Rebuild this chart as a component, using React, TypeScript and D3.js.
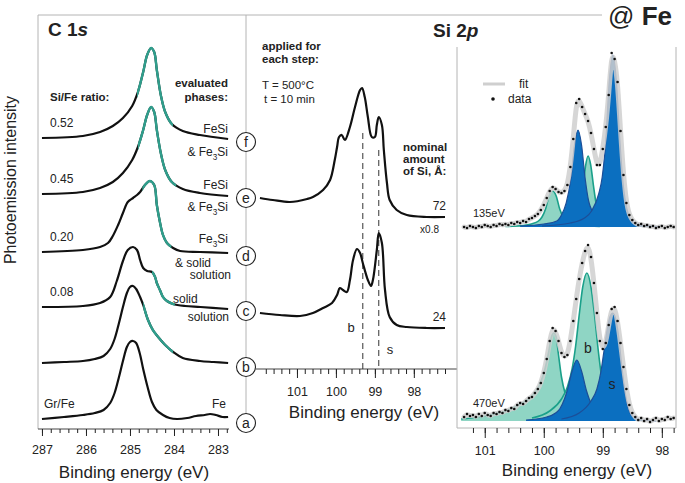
import * as React from "react";
import * as d3 from "d3";

type Pt = [number, number];

// ---- C 1s panel: [binding energy (eV), intensity above own baseline] ----
const c1sA: Pt[] = [
  [287.0, 0], [286.5, 2], [286.07, 4], [285.8, 6], [285.6, 9], [285.45, 16], [285.35, 26], [285.25, 42],
  [285.16, 58], [285.07, 72], [285.0, 77], [284.93, 78], [284.86, 76], [284.78, 66], [284.7, 50], [284.6, 32],
  [284.5, 17], [284.4, 9], [284.25, 4], [284.1, 1], [283.93, 0], [283.7, 1], [283.5, 3], [283.3, 4],
  [283.18, 5], [283.05, 4], [282.9, 2], [282.77, 2],
];
const c1sB: Pt[] = [
  [287.0, 0], [286.5, 1], [286.07, 2], [285.8, 4], [285.6, 7], [285.45, 14], [285.35, 24], [285.25, 40],
  [285.16, 56], [285.07, 70], [285.0, 76], [284.93, 77], [284.86, 74], [284.77, 66], [284.7, 58], [284.59, 43],
  [284.48, 33], [284.36, 26], [284.2, 18], [284.02, 11], [283.8, 5], [283.41, 2], [283.1, 1], [282.77, 0],
];
const c1sC: Pt[] = [
  [287.0, 0], [286.07, 1], [285.68, 4], [285.45, 10], [285.3, 26], [285.16, 46], [285.05, 57], [284.93, 60],
  [284.84, 57], [284.77, 47], [284.7, 39], [284.61, 36], [284.5, 35], [284.43, 30], [284.39, 24], [284.32, 17],
  [284.25, 10], [284.16, 6], [284.02, 3], [283.75, 1], [283.4, 0], [282.77, -2],
];
const c1sD: Pt[] = [
  [287.0, 0], [286.07, 2], [285.68, 5], [285.5, 9], [285.39, 16], [285.27, 27], [285.16, 39], [285.05, 50],
  [284.93, 54], [284.84, 57], [284.77, 60], [284.66, 67], [284.55, 71], [284.45, 67], [284.39, 47], [284.32, 30],
  [284.25, 17], [284.16, 9], [284.02, 4], [283.86, 1], [283.41, 0], [282.77, -1],
];
const c1sE: Pt[] = [
  [287.0, 0], [286.07, 2], [285.68, 6], [285.39, 12], [285.16, 21], [284.95, 34], [284.82, 47], [284.7, 64],
  [284.61, 79], [284.52, 87], [284.45, 82], [284.39, 64], [284.3, 41], [284.2, 24], [284.05, 12], [283.8, 5],
  [283.41, 1], [282.77, -2],
];
const c1sF: Pt[] = [
  [287.0, 0], [286.07, 2], [285.68, 6], [285.39, 12], [285.16, 20], [284.95, 32], [284.82, 46], [284.7, 66],
  [284.61, 83], [284.52, 90], [284.45, 86], [284.39, 68], [284.3, 43], [284.2, 26], [284.05, 14], [283.8, 7],
  [283.41, 3], [282.77, -1],
];
const c1sSpectra = [c1sA, c1sB, c1sC, c1sD, c1sE, c1sF];
const c1sOffsets = [10, 66, 122, 177, 235, 291];
// energy range drawn in teal (high, low)
const c1sTeal: (Pt | null)[] = [null, [284.7, 284.02], [284.5, 283.98], [284.72, 284.06], [284.82, 283.95], [284.84, 284.02]];
const stepLabels = ["a", "b", "c", "d", "e", "f"];
const ratioLabels = ["Gr/Fe", "", "0.08", "0.20", "0.45", "0.52"];
const c1sTickLabels = [287, 286, 285, 284, 283];

// ---- Si 2p series ----
const si2p72: Pt[] = [
  [101.95, 0], [101.62, -2], [101.18, -4], [100.74, -1], [100.59, 1], [100.33, 8], [100.15, 18], [100.03, 38],
  [99.97, 51], [99.92, 61], [99.85, 63], [99.77, 58], [99.64, 71], [99.51, 91], [99.38, 108], [99.33, 110],
  [99.26, 101], [99.18, 81], [99.08, 61], [99.0, 61], [98.95, 73], [98.9, 81], [98.82, 73], [98.77, 48],
  [98.69, 15], [98.62, -2], [98.44, -12], [98.18, -17], [97.67, -19], [97.2, -19],
];
const si2p24: Pt[] = [
  [101.95, 0], [101.44, -2], [100.92, -3], [100.59, 0], [100.33, 5], [100.1, 10], [99.97, 18], [99.9, 25],
  [99.82, 23], [99.72, 21], [99.64, 33], [99.56, 53], [99.46, 64], [99.38, 60], [99.31, 50], [99.18, 33],
  [99.1, 27], [99.05, 33], [98.95, 63], [98.9, 80], [98.82, 70], [98.74, 23], [98.62, -4], [98.44, -12],
  [98.18, -14], [97.67, -15], [97.2, -15],
];
const si2pOffsets = [56, 171];
const si2pAmounts = ["24", "72"];
const bulkEnergy = 99.31;
const surfaceEnergy = 98.9;
const si2pTickLabels = [101, 100, 99, 98];

// ---- Si 2p @ Fe fits ----
const fitEnergies = [
  101.35, 101.3, 101.25, 101.2, 101.15, 101.1, 101.05, 101.0, 100.95, 100.9, 100.85, 100.8, 100.75, 100.7,
  100.65, 100.6, 100.55, 100.5, 100.45, 100.4, 100.35, 100.3, 100.25, 100.2, 100.15, 100.1, 100.05, 100.0,
  99.95, 99.9, 99.85, 99.8, 99.75, 99.7, 99.65, 99.6, 99.55, 99.5, 99.45, 99.4, 99.35, 99.3, 99.25, 99.2,
  99.15, 99.1, 99.05, 99.0, 98.95, 98.9, 98.85, 98.8, 98.75, 98.7, 98.65, 98.6, 98.55, 98.5, 98.45, 98.4,
  98.35, 98.3, 98.25, 98.2, 98.15, 98.1, 98.05, 98.0, 97.95, 97.9, 97.85, 97.8,
];
const data135 = [
  0, -1, 1, 0, -1, 1, 0, 2, 1, 0, 2, 1, 3, 2,
  3, 2, 4, 3, 5, 4, 6, 5, 8, 9, 11, 13, 17, 22,
  29, 36, 40, 38, 35, 34, 36, 42, 60, 88, 124, 128, 120, 113, 106, 94,
  78, 62, 62, 78, 100, 132, 174, 168, 145, 96, 52, 24, 12, 7, 4, 2,
  3, 1, 2, 0, 1, -1, 0, 1, -1, 0, 1, 0,
];
const data470 = [
  4, 7, 5, 6, 4, 7, 5, 8, 6, 5, 8, 7, 9, 8,
  11, 10, 13, 12, 16, 18, 17, 20, 23, 24, 28, 32, 38, 48,
  62, 80, 93, 90, 80, 68, 64, 66, 80, 100, 122, 142, 158, 170, 176, 164,
  138, 108, 80, 72, 78, 96, 112, 114, 100, 78, 54, 32, 16, 8, 4, 1,
  3, 0, 2, -1, 1, 3, 0, 2, 1, 4, 2, 3,
];
// fit components, [energy, intensity]
const comp135Teal1: Pt[] = [
  [100.65, 0.5], [100.35, 1.5], [100.21, 3], [100.09, 6], [100.03, 10], [99.97, 18], [99.91, 31], [99.85, 36],
  [99.79, 31], [99.73, 18], [99.67, 10], [99.61, 6], [99.49, 3], [99.35, 1.5], [99.05, 0.5],
];
const comp135Blue1: Pt[] = [
  [100.4, 1], [100.0, 3], [99.78, 6], [99.7, 12], [99.62, 24], [99.54, 49], [99.48, 82], [99.42, 97],
  [99.36, 82], [99.3, 49], [99.24, 26], [99.18, 16], [99.06, 6], [98.84, 3], [98.4, 1],
];
const comp135Teal2: Pt[] = [
  [99.85, 1], [99.61, 3], [99.52, 6], [99.43, 12], [99.385, 20], [99.34, 38], [99.295, 60], [99.25, 71],
  [99.205, 62], [99.16, 42], [99.115, 24], [99.07, 13], [98.98, 6], [98.89, 3], [98.65, 1],
];
const comp135Blue2: Pt[] = [
  [100.03, 1], [99.55, 4], [99.31, 9], [99.19, 16], [99.07, 33], [99.01, 50], [98.95, 86], [98.89, 146],
  [98.83, 172], [98.77, 146], [98.71, 86], [98.65, 40], [98.59, 18], [98.51, 6], [98.38, 2], [98.03, 0.5],
];
const comp470Teal1: Pt[] = [
  [101.4, 2], [101.0, 5], [100.6, 11], [100.4, 17], [100.2, 25], [100.08, 35], [99.98, 52], [99.92, 68],
  [99.87, 84], [99.83, 88], [99.79, 84], [99.75, 66], [99.7, 44], [99.64, 28], [99.55, 16], [99.42, 8],
  [99.2, 3], [98.9, 1],
];
const comp470Blue1: Pt[] = [
  [100.3, 1], [99.95, 4], [99.8, 8], [99.73, 12], [99.65, 22], [99.6, 31], [99.52, 50], [99.44, 61],
  [99.36, 50], [99.28, 31], [99.23, 22], [99.15, 12], [99.08, 8], [98.93, 4], [98.6, 1],
];
const comp470Teal2: Pt[] = [
  [100.2, 3], [99.9, 10], [99.7, 22], [99.6, 34], [99.52, 52], [99.46, 75], [99.4, 106], [99.34, 134],
  [99.27, 148], [99.2, 134], [99.14, 106], [99.08, 72], [99.02, 44], [98.95, 25], [98.85, 12], [98.7, 5], [98.4, 1],
];
const comp470Blue2: Pt[] = [
  [99.7, 2], [99.4, 8], [99.2, 20], [99.1, 32], [99.03, 50], [98.98, 70], [98.93, 90], [98.88, 104],
  [98.83, 108], [98.78, 102], [98.73, 84], [98.68, 56], [98.63, 32], [98.58, 16], [98.5, 5], [98.35, 1], [98.1, 0],
];
const fitOffsets = [7, 201];
const photonLabels = ["470eV", "135eV"];

const FONT = "'Liberation Sans', Arial, sans-serif";
const TEAL = "#2f9e8c";
const GRAY = "#b4b4b4";

type G = d3.Selection<SVGGElement, unknown, null, undefined>;

// "_x" subscript, "*x" italic
function addText(g: G, x: number, y: number, str: string, size = 12, anchor = "start", weight = "normal") {
  const t = g.append("text")
    .attr("x", x).attr("y", y)
    .attr("font-size", size)
    .attr("text-anchor", anchor)
    .attr("font-weight", weight)
    .attr("fill", "#222");
  const parts = str.split(/([_*].)/).filter((s) => s !== "");
  let shift = 0;
  parts.forEach((p) => {
    if (p[0] === "_") {
      const dy = size * 0.3;
      t.append("tspan").attr("dy", dy - shift).attr("font-size", size * 0.68).text(p.slice(1));
      shift = dy;
    } else if (p[0] === "*") {
      t.append("tspan").attr("dy", -shift).attr("font-style", "italic").text(p.slice(1));
      shift = 0;
    } else {
      t.append("tspan").attr("dy", -shift).text(p);
      shift = 0;
    }
  });
  return t;
}

function bottomTicks(g: G, scale: d3.ScaleLinear<number, number>, y: number, minor: number[], major: number[],
                     minorLen: number, majorLen: number, labelY: number) {
  g.append("g")
    .attr("transform", `translate(0,${y})`)
    .call(d3.axisBottom(scale).tickValues(minor).tickSize(minorLen).tickFormat(() => ""))
    .call((a) => a.select(".domain").remove())
    .call((a) => a.selectAll("line").attr("stroke", "#222"));
  const maj = g.append("g")
    .attr("transform", `translate(0,${y})`)
    .call(d3.axisBottom(scale).tickValues(major).tickSize(majorLen).tickFormat(d3.format("d")))
    .call((a) => a.select(".domain").remove());
  maj.selectAll("line").attr("stroke", "#222");
  maj.selectAll("text")
    .attr("y", labelY - y).attr("dy", 0)
    .attr("font-size", 12.5).attr("font-family", FONT).attr("fill", "#222");
}

export default class App extends React.Component {

  private svgRef = React.createRef<SVGSVGElement>();

  public componentDidMount() {
    this.drawChart();
  }

  public render() {
    return (
      <svg ref={this.svgRef} width={685} height={483}
        style={{ position: "absolute", left: 0, top: 0, background: "#fff" }} />
    );
  }

  private drawChart() {
    if (!this.svgRef.current) return;
    const svg = d3.select(this.svgRef.current);
    svg.selectAll("*").remove();
    const root = svg.append("g").attr("font-family", FONT) as unknown as G;

    // frame
    root.append("line").attr("x1", 38).attr("x2", 602).attr("y1", 15).attr("y2", 15).attr("stroke", GRAY);
    root.append("line").attr("x1", 38).attr("x2", 38).attr("y1", 15).attr("y2", 429).attr("stroke", GRAY);
    root.append("line").attr("x1", 246).attr("x2", 246).attr("y1", 15).attr("y2", 423).attr("stroke", GRAY);

    // ---------- C 1s ----------
    const x1 = d3.scaleLinear().domain([287.09, 282.75]).range([38, 229]);
    const y1 = d3.scaleLinear().domain([0, 414]).range([429, 15]);

    root.append("line").attr("x1", 38).attr("x2", 229).attr("y1", 429).attr("y2", 429).attr("stroke", "#444");
    bottomTicks(root, x1, 429, d3.range(282.8, 287.01, 0.2), c1sTickLabels, 4, 7, 454);

    c1sSpectra.forEach((spec, i) => {
      const off = c1sOffsets[i];
      const line = d3.line<Pt>()
        .x((d) => x1(d[0]))
        .y((d) => y1(d[1] + off))
        .curve(d3.curveCatmullRom.alpha(0.5));
      root.append("path").attr("d", line(spec)!)
        .attr("fill", "none").attr("stroke", "#111").attr("stroke-width", 2.2)
        .attr("stroke-linejoin", "round");
      const teal = c1sTeal[i];
      if (teal) {
        const id = `teal-c1s-${i}`;
        root.append("clipPath").attr("id", id)
          .append("rect")
          .attr("x", x1(teal[0])).attr("width", x1(teal[1]) - x1(teal[0]))
          .attr("y", 0).attr("height", 483);
        root.append("path").attr("d", line(spec)!)
          .attr("clip-path", `url(#${id})`)
          .attr("fill", "none").attr("stroke", TEAL).attr("stroke-width", 2.4)
          .attr("stroke-linejoin", "round");
      }
    });

    addText(root, 48, 36, "C 1*s", 19, "start", "bold");
    addText(root, 50, 101, "Si/Fe ratio:", 11.5, "start", "bold");
    addText(root, 228, 87, "evaluated", 11.5, "end", "bold");
    addText(root, 228, 101, "phases:", 11.5, "end", "bold");
    ratioLabels.forEach((r, i) => {
      if (!r) return;
      addText(root, i === 0 ? 44 : 50, y1(c1sOffsets[i]) - 11, r, 12);
    });
    addText(root, 228, 133, "FeSi", 12, "end");
    addText(root, 228, 156, "& Fe_3Si", 12, "end");
    addText(root, 228, 189, "FeSi", 12, "end");
    addText(root, 228, 211, "& Fe_3Si", 12, "end");
    addText(root, 228, 243, "Fe_3Si", 12, "end");
    addText(root, 175, 267, "& solid", 12);
    addText(root, 231, 279, "solution", 12, "end");
    addText(root, 173, 303, "solid", 12);
    addText(root, 229, 321, "solution", 12, "end");
    addText(root, 226, 408, "Fe", 12, "end");

    addText(root, 134, 478, "Binding energy (eV)", 17, "middle");
    addText(root, 0, 0, "Photoemission intensity", 16, "middle")
      .attr("transform", "translate(16,180) rotate(-90)");

    // step circles
    stepLabels.forEach((s, i) => {
      const cy = y1(c1sOffsets[i]) + 4;
      root.append("circle").attr("cx", 246).attr("cy", cy).attr("r", 9.5)
        .attr("fill", "#fff").attr("stroke", "#222").attr("stroke-width", 1.1);
      addText(root, 246, cy + 5, s, 14, "middle");
    });

    // ---------- Si 2p ----------
    const x2 = d3.scaleLinear().domain([102, 97.2]).range([258, 445]);
    const y2 = d3.scaleLinear().domain([0, 354]).range([369, 15]);

    root.append("line").attr("x1", 256).attr("x2", 457).attr("y1", 369).attr("y2", 369).attr("stroke", "#444");
    bottomTicks(root, x2, 369, d3.range(97.2, 101.81, 0.2), si2pTickLabels, 5, 9, 396);

    [bulkEnergy, surfaceEnergy].forEach((e, i) => {
      root.append("line")
        .attr("x1", x2(e)).attr("x2", x2(e))
        .attr("y1", i === 0 ? 133 : 150).attr("y2", 369)
        .attr("stroke", "#333").attr("stroke-width", 1).attr("stroke-dasharray", "6,4");
    });

    [si2p24, si2p72].forEach((spec, i) => {
      const off = si2pOffsets[i];
      const line = d3.line<Pt>()
        .x((d) => x2(d[0]))
        .y((d) => y2(d[1] + off))
        .curve(d3.curveCatmullRom.alpha(0.5));
      root.append("path").attr("d", line(spec)!)
        .attr("fill", "none").attr("stroke", "#111").attr("stroke-width", 2.2)
        .attr("stroke-linejoin", "round");
    });

    addText(root, 262, 50, "applied for", 11.5, "start", "bold");
    addText(root, 262, 63, "each step:", 11.5, "start", "bold");
    addText(root, 262, 89, "T = 500\u00B0C", 11.5);
    addText(root, 264, 103, "t = 10 min", 11.5);
    addText(root, 403, 151, "nominal", 11.5, "start", "bold");
    addText(root, 403, 163, "amount", 11.5, "start", "bold");
    addText(root, 403, 175, "of Si, Å:", 11.5, "start", "bold");
    addText(root, 446, 210, si2pAmounts[1], 12, "end");
    addText(root, 439, 233, "x0.8", 10, "end");
    addText(root, 446, 321, si2pAmounts[0], 12, "end");
    addText(root, 351, 332, "b", 13, "middle");
    addText(root, 390, 354, "s", 13, "middle");
    addText(root, 364, 418, "Binding energy (eV)", 17, "middle");
    addText(root, 433, 37, "Si 2*p", 19, "start", "bold");

    // ---------- Si 2p @ Fe ----------
    const x3 = d3.scaleLinear().domain([101.47, 97.76]).range([457, 676]);
    const y3 = d3.scaleLinear().domain([0, 400]).range([428, 28]);

    root.append("line").attr("x1", 457).attr("x2", 457).attr("y1", 47).attr("y2", 428).attr("stroke", GRAY);
    root.append("line").attr("x1", 676).attr("x2", 676).attr("y1", 47).attr("y2", 428).attr("stroke", GRAY);
    root.append("line").attr("x1", 457).attr("x2", 676).attr("y1", 428).attr("y2", 428).attr("stroke", GRAY);
    bottomTicks(root, x3, 428, d3.range(97.8, 101.21, 0.2), si2pTickLabels, 5, 10, 455);

    const fits = [
      { data: data470, teal: [comp470Teal1, comp470Teal2], blue: [comp470Blue1, comp470Blue2] },
      { data: data135, teal: [comp135Teal1, comp135Teal2], blue: [comp135Blue1, comp135Blue2] },
    ];
    fits.forEach((f, i) => {
      const off = fitOffsets[i];
      const area = d3.area<Pt>()
        .x((d) => x3(d[0]))
        .y0(y3(off))
        .y1((d) => y3(d[1] + off))
        .curve(d3.curveMonotoneX);
      const line = d3.line<Pt>()
        .x((d) => x3(d[0]))
        .y((d) => y3(d[1] + off))
        .curve(d3.curveMonotoneX);
      const sorted = (c: Pt[]) => c.slice().sort((a, b) => a[0] - b[0]);
      f.teal.forEach((c) => {
        root.append("path").attr("d", area(sorted(c))!).attr("fill", "#8fd5c4");
        root.append("path").attr("d", line(sorted(c))!).attr("fill", "none")
          .attr("stroke", "#1aa08a").attr("stroke-width", 1.6);
      });
      f.blue.forEach((c) => {
        root.append("path").attr("d", area(sorted(c))!).attr("fill", "#0b6fc0");
        root.append("path").attr("d", line(sorted(c))!).attr("fill", "none")
          .attr("stroke", "#1c4e98").attr("stroke-width", 1.2);
      });
      const pts: Pt[] = fitEnergies.map((e, k) => [e, f.data[k]] as Pt);
      const fitLine = d3.line<Pt>()
        .x((d) => x3(d[0]))
        .y((d) => y3(d[1] + off))
        .curve(d3.curveBasis);
      root.append("path").attr("d", fitLine(pts)!)
        .attr("fill", "none").attr("stroke", "#cfcfcf").attr("stroke-width", 5)
        .attr("stroke-opacity", 0.85).attr("stroke-linecap", "round");
      root.append("g").selectAll("circle")
        .data(pts)
        .enter().append("circle")
        .attr("cx", (d) => x3(d[0]))
        .attr("cy", (d) => y3(d[1] + off))
        .attr("r", 1.3)
        .attr("fill", "#111");
      addText(root, 473, i === 0 ? 407 : 217, photonLabels[i], 11);
    });

    addText(root, 588, 353, "b", 14, "middle");
    addText(root, 612, 389, "s", 14, "middle");

    // legend
    root.append("line").attr("x1", 483).attr("x2", 505).attr("y1", 84).attr("y2", 84)
      .attr("stroke", "#cfcfcf").attr("stroke-width", 3);
    addText(root, 519, 88, "fit", 12);
    root.append("circle").attr("cx", 493).attr("cy", 99).attr("r", 1.8).attr("fill", "#111");
    addText(root, 508, 103, "data", 12);

    addText(root, 577, 476, "Binding energy (eV)", 17, "middle");

    const fe = addText(root, 608, 25, "@ ", 26);
    fe.append("tspan").attr("font-weight", "bold").text("Fe");
  }
}
